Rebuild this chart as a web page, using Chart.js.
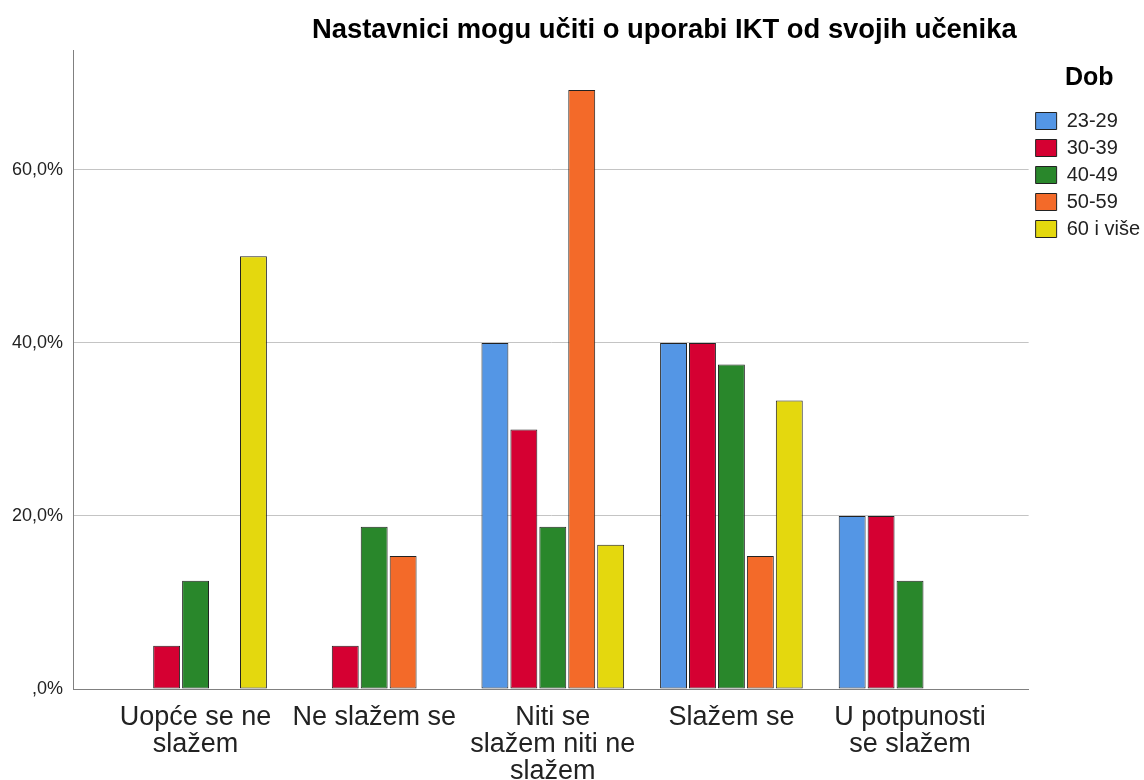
<!DOCTYPE html>
<html lang="hr">
<head>
<meta charset="UTF-8">
<title>Chart</title>
<script src="https://cdn.jsdelivr.net/npm/chart.js@4.4.1/dist/chart.umd.min.js"></script>
<style>
    body { margin: 0; background: #fff; }
    #wrap { position: relative; width: 1144px; height: 780px; }
    #title {
        position: absolute; left: 312px; top: 15px;
        font: bold 27.4px "Liberation Sans", Arial, sans-serif;
        line-height: 27px; color: #000; white-space: nowrap;
    }
</style>
</head>
<body>
<div id="wrap">
    <canvas id="chart" width="1144" height="780"></canvas>
    <div id="title">Nastavnici mogu učiti o uporabi IKT od svojih učenika</div>
</div>
<script>
    var categories = [['Uopće se ne', 'slažem'], 'Ne slažem se', ['Niti se', 'slažem niti ne', 'slažem'], 'Slažem se', ['U potpunosti', 'se slažem']];
    var ageGroups = ['23-29', '30-39', '40-49', '50-59', '60 i više'];
    var v2329 = [0, 0, 40, 40, 20];
    var v3039 = [5, 5, 30, 40, 20];
    var v4049 = [12.5, 18.75, 18.75, 37.5, 12.5];
    var v5059 = [0, 15.38, 69.23, 15.38, 0];
    var v60 = [50, 0, 16.67, 33.33, 0];
    var colors = ['rgb(84,150,229)', 'rgb(213,0,50)', 'rgb(41,135,43)', 'rgb(243,106,41)', 'rgb(228,216,14)'];

    var font = '"Liberation Sans", Arial, sans-serif';
    var series = [v2329, v3039, v4049, v5059, v60];

    var datasets = series.map(function (vals, i) {
        return {
            label: ageGroups[i],
            data: vals.map(function (v, j) { return { x: j, y: v }; }),
            backgroundColor: colors[i],
            borderColor: '#222',
            borderWidth: 1,
            borderSkipped: false,
            categoryPercentage: 0.81,
            barPercentage: 0.93
        };
    });

    const ctx = document.getElementById('chart').getContext('2d');
    const myChart = new Chart(ctx, {
        type: 'bar',
        data: { datasets: datasets },
        options: {
            responsive: false,
            animation: false,
            layout: { padding: { top: 50, left: 2, right: -6, bottom: -20 } },
            plugins: {
                tooltip: { enabled: false },
                legend: {
                    position: 'right',
                    align: 'start',
                    title: {
                        display: true, text: 'Dob', color: '#000',
                        font: { family: font, size: 25, weight: 'bold' },
                        padding: { top: 16, bottom: 8 }
                    },
                    labels: {
                        boxWidth: 21, boxHeight: 17, padding: 7, color: '#222',
                        font: { family: font, size: 20 }
                    }
                }
            },
            scales: {
                x: {
                    type: 'linear',
                    offset: false,
                    min: -0.686,
                    max: 4.664,
                    grid: { display: false, drawTicks: false },
                    border: { display: true, color: '#808080' },
                    ticks: {
                        stepSize: 1, includeBounds: false, autoSkip: false, maxRotation: 0,
                        padding: 15, color: '#222',
                        font: { family: font, size: 27, lineHeight: 1.0 },
                        callback: function (v) { return Number.isInteger(v) ? categories[v] : ''; }
                    }
                },
                y: {
                    min: 0,
                    max: 73.85,
                    grid: { color: '#c4c4c4', drawTicks: false },
                    border: { display: true, color: '#808080' },
                    ticks: {
                        stepSize: 20, includeBounds: false, padding: 10, color: '#222',
                        font: { family: font, size: 18 },
                        callback: function (v) { return v === 0 ? ',0%' : v.toFixed(1).replace('.', ',') + '%'; }
                    }
                }
            }
        }
    });
</script>
</body>
</html>
